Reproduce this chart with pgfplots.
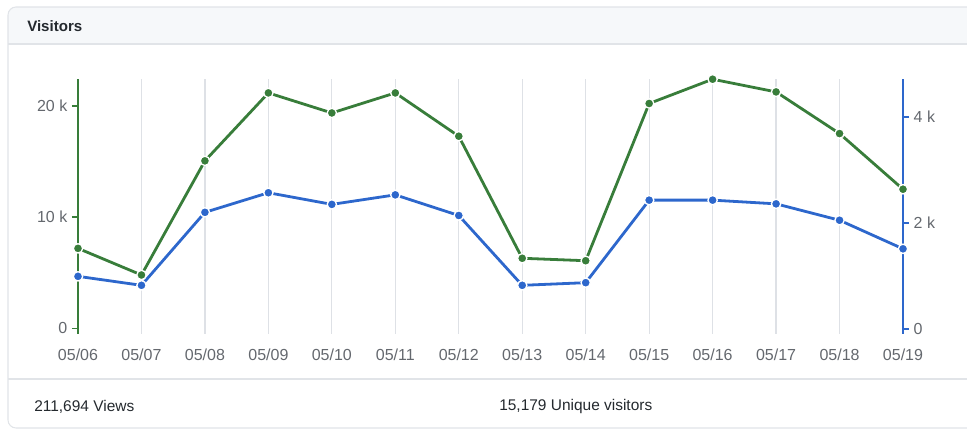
\documentclass[border=0pt]{standalone}
\usepackage{pgfplots}
\pgfplotsset{compat=1.18}
\usepackage{pgfplotstable}
\usepackage{fontspec}
\setmainfont{Liberation Sans}
\definecolor{gviews}{RGB}{56,125,58}
\definecolor{buniq}{RGB}{45,103,204}
\definecolor{gridc}{RGB}{222,225,230}
\definecolor{panelb}{RGB}{225,228,232}
\definecolor{headbg}{RGB}{246,248,250}
\definecolor{txt}{RGB}{36,41,46}
\definecolor{tickc}{RGB}{100,104,110}

\pgfplotstableread{
x views uniq
0  7.19 0.99
1  4.80 0.82
2  15.05 2.20
3  21.15 2.57
4  19.35 2.35
5  21.15 2.53
6  17.26 2.14
7  6.30 0.82
8  6.08 0.87
9  20.20 2.43
10 22.38 2.43
11 21.24 2.36
12 17.50 2.05
13 12.50 1.51
}\data

\pgfplotsset{
  base/.style={
    at={(58.5pt,72.75pt)}, anchor=south west,
    scale only axis, width=618.75pt, height=191.25pt,
    xmin=0, xmax=13, clip=false,
    /pgf/number format/assume math mode=true,
    tick label style={font=\fontsize{12}{14}\selectfont, text=tickc},
  },
}

\begin{document}
\begin{tikzpicture}
\useasboundingbox (0,0) rectangle (725.25pt,323.25pt);
\begin{scope}[x=0.75pt,y=-0.75pt,shift={(0pt,323.25pt)}]
  \clip (0,0) rectangle (967,431);
  \fill[headbg] (8,44) [rounded corners=6pt] -- (8,7) -- (990,7) [sharp corners] -- (990,44) -- cycle;
  \draw[panelb, line width=0.8pt] (8,44) -- (990,44);
  \draw[panelb, line width=0.8pt] (8,379) -- (990,379);
  \draw[panelb, line width=0.8pt, rounded corners=6pt] (990,7) -- (8,7) -- (8,428) -- (990,428);
  \node[anchor=west, text=txt, font=\bfseries\fontsize{11.3}{13}\selectfont, inner sep=0pt] at (27,26) {Visitors};
  \node[anchor=west, text=txt, font=\fontsize{11.6}{13}\selectfont, inner sep=0pt] at (34,407) {211,694 Views};
  \node[anchor=west, text=txt, font=\fontsize{11.6}{13}\selectfont, inner sep=0pt] at (499,407) {15,179 Unique visitors};
\end{scope}

% axis 1: grid, x labels, left axis
\begin{axis}[base,
  ymin=-0.5, ymax=22.4,
  axis y line*=left, axis x line*=bottom,
  x axis line style={draw=none},
  y axis line style={-, draw=gviews, line width=2.2pt},
  xtick={0,...,13},
  xticklabels={05/06,05/07,05/08,05/09,05/10,05/11,05/12,05/13,05/14,05/15,05/16,05/17,05/18,05/19},
  xmajorgrids, major grid style={draw=gridc, line width=0.9pt},
  major x tick style={draw=none},
  xticklabel style={yshift=-3.5pt},
  ytick={0,10,20}, yticklabels={0,10 k,20 k},
  tick align=outside,
  major y tick style={draw=gviews, line width=1.2pt},
  major tick length=4.5pt,
]
\end{axis}

% axis 2: right axis + unique visitors
\begin{axis}[base,
  ymin=-0.1, ymax=4.72,
  axis y line*=right, axis x line=none,
  y axis line style={-, draw=buniq, line width=2.2pt},
  ytick={0,2,4}, yticklabels={0,2 k,4 k},
  tick align=outside,
  major y tick style={draw=buniq, line width=1.2pt},
  major tick length=4.5pt,
]
\addplot[buniq, line width=2.1pt, mark=*, mark size=3.5pt,
  mark options={draw=white, fill=buniq, line width=1pt}] table[x=x, y=uniq] {\data};
\end{axis}

% axis 3: views on top
\begin{axis}[base,
  ymin=-0.5, ymax=22.4, hide axis,
]
\addplot[gviews, line width=2.1pt, mark=*, mark size=3.5pt,
  mark options={draw=white, fill=gviews, line width=1pt}] table[x=x, y=views] {\data};
\end{axis}
\end{tikzpicture}
\end{document}
